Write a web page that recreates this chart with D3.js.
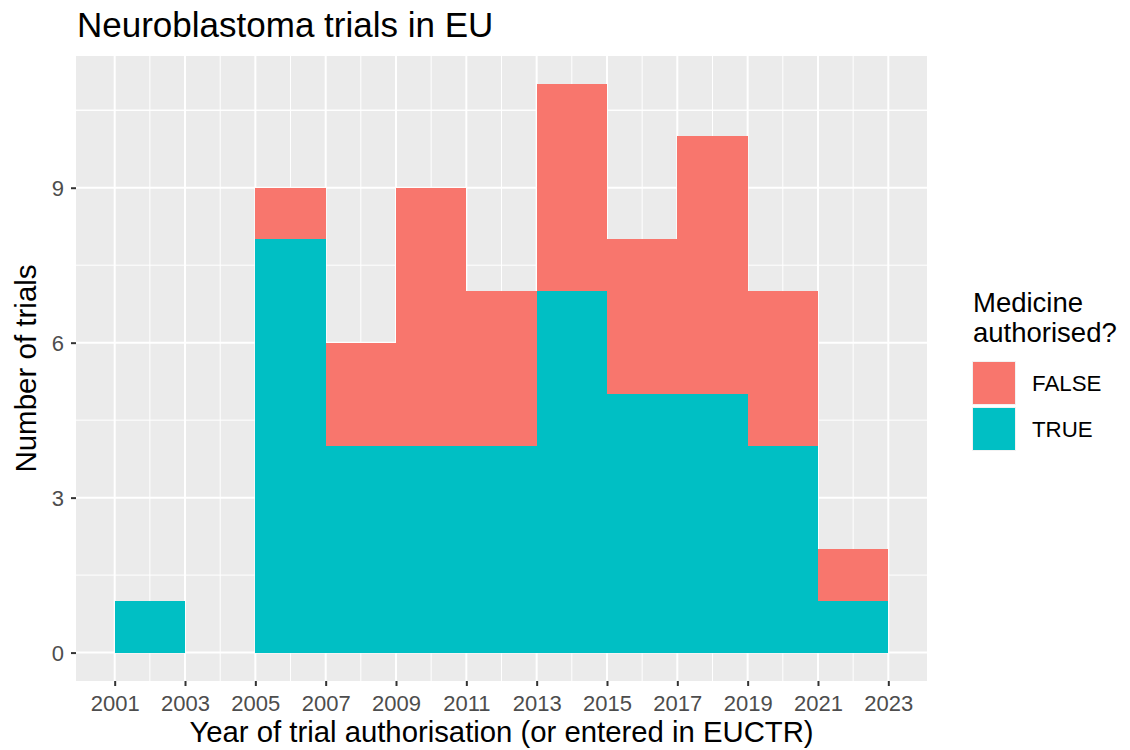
<!DOCTYPE html>
<html><head><meta charset="utf-8">
<script src="https://cdn.jsdelivr.net/npm/d3@7"></script>
<style>body{margin:0;background:#fff}svg{display:block}text{font-family:"Liberation Sans",Arial,sans-serif}</style>
</head><body><svg id="c" width="1130" height="750"></svg>
<script>
const binStarts = [2001,2003,2005,2007,2009,2011,2013,2015,2017,2019,2021];
const trueCounts = [1,0,8,4,4,4,7,5,5,4,1];
const falseCounts = [0,0,1,2,5,3,4,3,5,3,1];
const binWidth = 2;
const xTicks = [2001,2003,2005,2007,2009,2011,2013,2015,2017,2019,2021,2023];
const yTicks = [0,3,6,9];
const series = ["FALSE","TRUE"];
const colors = ["#F8766D","#00BFC4"];

const svg = d3.select("#c");
const P = {l:76, r:927, t:56, b:681};
const x = d3.scaleLinear().domain([2001-1.1, 2023+1.1]).range([P.l,P.r]);
const yMax = 11;
const y = d3.scaleLinear().domain([-0.55, yMax+0.55]).range([P.b,P.t]);

svg.append("rect").attr("x",P.l).attr("y",P.t).attr("width",P.r-P.l).attr("height",P.b-P.t).attr("fill","#EBEBEB");
const g = svg.append("g");
const xMinor = xTicks.slice(0,-1).map(v=>v+1);
const yMinor = yTicks.map(v=>v+1.5).concat([10.5]);
g.selectAll(".xm").data(xMinor).join("line").attr("x1",d=>x(d)).attr("x2",d=>x(d)).attr("y1",P.t).attr("y2",P.b).attr("stroke","#fff").attr("stroke-width",1);
g.selectAll(".ym").data(yMinor).join("line").attr("y1",d=>y(d)).attr("y2",d=>y(d)).attr("x1",P.l).attr("x2",P.r).attr("stroke","#fff").attr("stroke-width",1);
g.selectAll(".xM").data(xTicks).join("line").attr("x1",d=>x(d)).attr("x2",d=>x(d)).attr("y1",P.t).attr("y2",P.b).attr("stroke","#fff").attr("stroke-width",2);
g.selectAll(".yM").data(yTicks).join("line").attr("y1",d=>y(d)).attr("y2",d=>y(d)).attr("x1",P.l).attr("x2",P.r).attr("stroke","#fff").attr("stroke-width",2);

const table = binStarts.map((s,i)=>({start:s, TRUE:trueCounts[i], FALSE:falseCounts[i]}));
const stack = d3.stack().keys(["TRUE","FALSE"])(table);
const col = {FALSE:colors[0], TRUE:colors[1]};
svg.append("g").selectAll("g").data(stack).join("g").attr("fill",d=>col[d.key]).attr("shape-rendering","crispEdges")
  .selectAll("rect").data(d=>d.filter(e=>e[1]>e[0])).join("rect")
  .attr("x",d=>x(d.data.start)).attr("width",d=>x(d.data.start+binWidth)-x(d.data.start))
  .attr("y",d=>y(d[1])).attr("height",d=>y(d[0])-y(d[1]));

const xa = svg.append("g").attr("transform",`translate(0,${P.b})`).call(d3.axisBottom(x).tickValues(xTicks).tickFormat(d3.format("d")).tickSize(5));
const ya = svg.append("g").attr("transform",`translate(${P.l},0)`).call(d3.axisLeft(y).tickValues(yTicks).tickSize(5));
[xa,ya].forEach(a=>{a.select(".domain").remove();a.selectAll(".tick line").attr("stroke","#333").attr("stroke-width",2);a.selectAll(".tick text").attr("fill","#4D4D4D").style("font-size","22px");});
xa.selectAll(".tick text").attr("y",30).attr("dy",0);
ya.selectAll(".tick text").attr("x",-12).attr("dy","0.35em");

svg.append("text").attr("x",77).attr("y",37).style("font-size","35px").attr("fill","#000").text("Neuroblastoma trials in EU");
svg.append("text").attr("x",(P.l+P.r)/2).attr("y",742).attr("text-anchor","middle").style("font-size","29.3px").attr("fill","#000").text("Year of trial authorisation (or entered in EUCTR)");
svg.append("text").attr("transform",`translate(36,${(P.t+P.b)/2}) rotate(-90)`).attr("text-anchor","middle").style("font-size","29.5px").attr("fill","#000").text("Number of trials");

const L = svg.append("g");
L.append("text").attr("x",973).attr("y",312).style("font-size","27.5px").text("Medicine");
L.append("text").attr("x",973).attr("y",342).style("font-size","27.5px").text("authorised?");
series.forEach((s,i)=>{
  L.append("rect").attr("x",972).attr("y",361+i*46).attr("width",44).attr("height",44).attr("fill","#F2F2F2");
  L.append("rect").attr("x",973).attr("y",362+i*46).attr("width",42).attr("height",42).attr("fill",colors[i]);
  L.append("text").attr("x",1032).attr("y",391+i*46).style("font-size","22.3px").text(s);
});
</script></body></html>
